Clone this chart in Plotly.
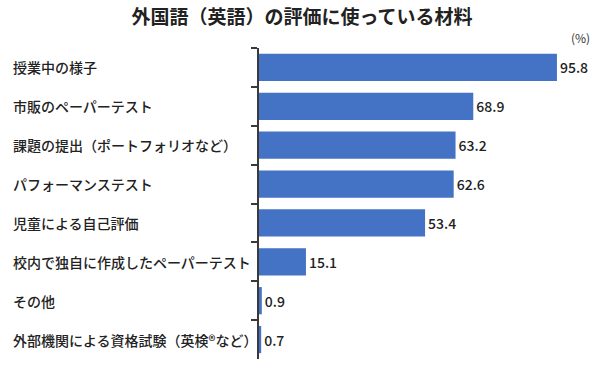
import plotly.graph_objects as go

categories = [
    "授業中の様子",
    "市販のペーパーテスト",
    "課題の提出（ポートフォリオなど）",
    "パフォーマンステスト",
    "児童による自己評価",
    "校内で独自に作成したペーパーテスト",
    "その他",
    "外部機関による資格試験（英検®など）",
]
values = [95.8, 68.9, 63.2, 62.6, 53.4, 15.1, 0.9, 0.7]
title_text = "外国語（英語）の評価に使っている材料"
unit_text = "(%)"

FONT = "Noto Sans CJK JP"
L, R, T, B = 259, 20, 48, 13
W, H = 600, 372
plot_w = W - L - R
xmax = plot_w / 3.11

fig = go.Figure(
    go.Bar(
        x=values,
        y=categories,
        orientation="h",
        marker=dict(color="#4472C4", line=dict(width=0)),
        text=values,
        texttemplate="%{x:.1f}",
        textposition="outside",
        textfont=dict(family=FONT, size=14, color="#222222", weight=500),
        cliponaxis=False,
        hoverinfo="skip",
    )
)

annotations = []
for c in categories:
    annotations.append(
        dict(
            x=(11 - L) / plot_w,
            xref="paper",
            y=c,
            yref="y",
            text=c,
            showarrow=False,
            xanchor="left",
            yanchor="middle",
            font=dict(family=FONT, size=14, color="#222222", weight=500),
        )
    )
annotations.append(
    dict(
        x=(592 - L) / plot_w,
        xref="paper",
        y=1.0,
        yref="paper",
        yshift=0,
        text=unit_text,
        showarrow=False,
        xanchor="right",
        yanchor="bottom",
        font=dict(family=FONT, size=12, color="#333333"),
    )
)

fig.update_layout(
    width=W,
    height=H,
    margin=dict(l=L, r=R, t=T, b=B),
    paper_bgcolor="white",
    plot_bgcolor="white",
    bargap=0.3,
    showlegend=False,
    annotations=annotations,
    title=dict(
        text="<b>" + title_text + "</b>",
        x=302 / W,
        xref="container",
        xanchor="center",
        y=1 - 17 / H,
        yref="container",
        yanchor="middle",
        font=dict(family=FONT, size=19, color="#222222"),
    ),
    xaxis=dict(
        range=[0, xmax],
        visible=False,
        showgrid=False,
        zeroline=False,
    ),
    yaxis=dict(
        autorange="reversed",
        showticklabels=False,
        showline=True,
        linecolor="#3a3a3a",
        linewidth=1.5,
        ticks="outside",
        tickson="boundaries",
        ticklen=6,
        tickcolor="#3a3a3a",
        tickwidth=1.5,
        showgrid=False,
        zeroline=False,
    ),
)

fig.write_html(
    "out.html",
    config={"displayModeBar": False},
    post_script="document.body.style.margin='0';document.body.style.padding='0';",
)
